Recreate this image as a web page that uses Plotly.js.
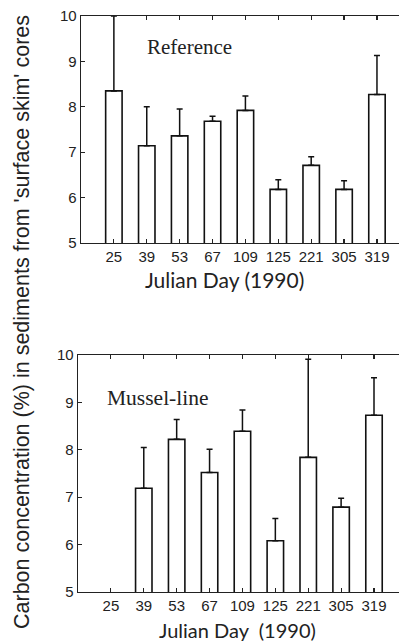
<!DOCTYPE html>
<html>
<head>
<meta charset="utf-8">
<script src="https://cdn.plot.ly/plotly-3.0.1.min.js"></script>
<style>html,body{margin:0;padding:0;background:#fff;}#chart{width:399px;height:643px;}</style>
</head>
<body>
<div id="chart"></div>
<script>
// Julian days (categories)
var days = ["25", "39", "53", "67", "109", "125", "221", "305", "319"];
// Reference site: mean carbon (%) and upper error
var refMean = [8.35, 7.14, 7.36, 7.68, 7.92, 6.18, 6.71, 6.18, 8.27];
var refErr  = [1.65, 0.86, 0.59, 0.11, 0.32, 0.21, 0.19, 0.19, 0.86];
// Mussel-line site: mean carbon (%) and upper error (no sample on day 25)
var musMean = [null, 7.19, 8.22, 7.52, 8.39, 6.08, 7.84, 6.79, 8.73];
var musErr  = [null, 0.86, 0.42, 0.49, 0.45, 0.47, 2.07, 0.19, 0.79];
var yTicks = [5, 6, 7, 8, 9, 10];

function zeros(a){ return a.map(function(){ return 0; }); }

var barStyle = {color: '#ffffff', line: {color: '#111111', width: 1.6}};
var errStyle = function(arr){
  return {type: 'data', symmetric: false, array: arr, arrayminus: zeros(arr),
          color: '#111111', thickness: 1.5, width: 3};
};

var traces = [
  {type: 'bar', x: days, y: refMean, width: 0.5, marker: barStyle,
   error_y: errStyle(refErr), xaxis: 'x', yaxis: 'y', hoverinfo: 'none'},
  {type: 'bar', x: days, y: musMean, width: 0.5, marker: barStyle,
   error_y: errStyle(musErr), xaxis: 'x2', yaxis: 'y2', hoverinfo: 'none'}
];

var sans = '"Liberation Sans", Arial, sans-serif';
var humanist = 'Lato, "Liberation Sans", sans-serif';
var serif = '"Liberation Serif", "Times New Roman", serif';
var tickFont = {family: sans, size: 15, color: '#222'};

function xAxis(domain, range, anchor){
  return {
    type: 'category', domain: domain, range: range, anchor: anchor,
    showline: true, linecolor: '#222', linewidth: 1.3, mirror: 'ticks',
    ticks: 'inside', ticklen: 4, tickcolor: '#222', tickwidth: 1.2,
    tickfont: tickFont, showgrid: false, zeroline: false, fixedrange: true
  };
}
function yAxis(domain, anchor){
  return {
    domain: domain, range: [5, 10], anchor: anchor,
    tickvals: yTicks, ticktext: yTicks.map(String),
    showline: true, linecolor: '#222', linewidth: 1.3, mirror: false,
    ticks: 'inside', ticklen: 4, tickcolor: '#222', tickwidth: 1.2,
    tickfont: tickFont, showgrid: false, zeroline: false, fixedrange: true
  };
}

var layout = {
  width: 399, height: 643,
  margin: {l: 78, r: 0, t: 16, b: 51},
  paper_bgcolor: '#fff', plot_bgcolor: '#fff',
  showlegend: false,
  xaxis: xAxis([0.0093, 1], [-1, 8.67], 'y'), yaxis: yAxis([0.606, 1], 'x'),
  xaxis2: xAxis([0, 1], [-1, 8.76], 'y2'), yaxis2: yAxis([0, 0.4115], 'x2'),
  annotations: [
    {text: 'Reference', xref: 'paper', yref: 'paper', x: 0.209, y: 0.946,
     xanchor: 'left', yanchor: 'middle', showarrow: false,
     font: {family: serif, size: 21, color: '#222'}},
    {text: 'Mussel-line', xref: 'paper', yref: 'paper', x: 0.084, y: 0.337,
     xanchor: 'left', yanchor: 'middle', showarrow: false,
     font: {family: serif, size: 21.5, color: '#222'}},
    {text: 'Julian Day (1990)', xref: 'paper', yref: 'paper', x: 0.455, y: 0.5417,
     xanchor: 'center', yanchor: 'middle', showarrow: false,
     font: {family: humanist, size: 21, color: '#222'}},
    {text: 'Julian Day  (1990)', xref: 'paper', yref: 'paper', x: 0.498, y: -0.066,
     xanchor: 'center', yanchor: 'middle', showarrow: false,
     font: {family: humanist, size: 20, color: '#222'}},
    {text: "Carbon concentration (%) in sediments from 'surface skim' cores",
     xref: 'paper', yref: 'paper', x: -0.174, y: 0.469, textangle: -90,
     xanchor: 'center', yanchor: 'middle', showarrow: false,
     font: {family: sans, size: 21.5, color: '#222'}}
  ]
};

Plotly.newPlot('chart', traces, layout, {staticPlot: true, displayModeBar: false});
</script>
</body>
</html>
